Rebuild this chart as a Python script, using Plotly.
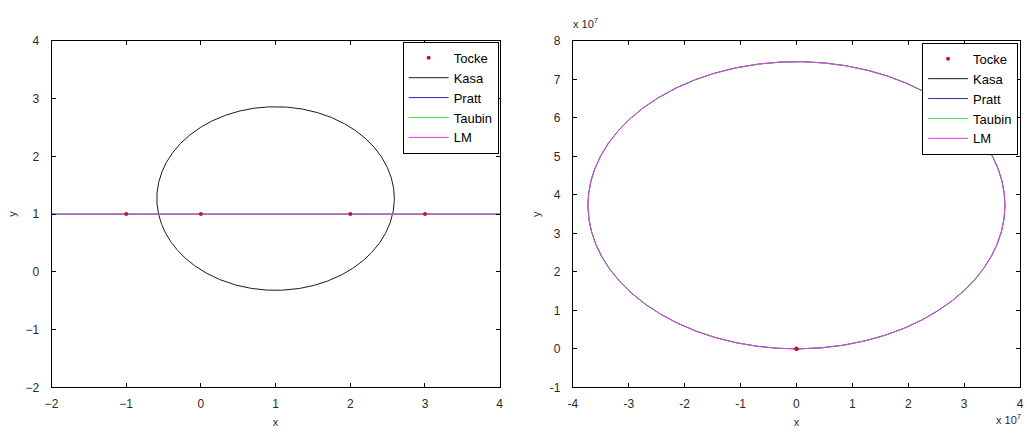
import numpy as np
import plotly.graph_objects as go

# Measured points
tocke_x = [-1, 0, 2, 3]
tocke_y = [1, 1, 1, 1]

# Fitted circles: centre x, centre y, radius
fit_names = ["Kasa", "Pratt", "Taubin", "LM"]
fit_cx = [1.0, 1.0, 1.0, 1.0]
fit_cy = [1.27, 3.73e7 + 1, 3.73e7 + 1, 3.73e7 + 1]
fit_r = [1.59, 3.73e7, 3.73e7, 3.73e7]
fit_colors = ["#1a1a1a", "#2b2bb0", "#44dd44", "#e03ce0"]

# Axis ticks
left_ticks = [-2, -1, 0, 1, 2, 3, 4]
right_xticks = [-4, -3, -2, -1, 0, 1, 2, 3, 4]
right_yticks = [-1, 0, 1, 2, 3, 4, 5, 6, 7, 8]
scale = 1e7

FONT = "Liberation Sans, Arial, sans-serif"
TXT = "#2a2a2a"


def full_circle(cx, cy, r, n=1441):
    t = np.linspace(0, 2 * np.pi, n)
    return cx + r * np.cos(t), cy + r * np.sin(t)


def lower_arc(cx, cy, r, xs):
    xs = np.asarray(xs, dtype=float)
    return xs, cy - np.sqrt(r * r - (xs - cx) ** 2)


fig = go.Figure()

# Left panel
for name, cx, cy, r, col in zip(fit_names, fit_cx, fit_cy, fit_r, fit_colors):
    if r < 100:
        xs, ys = full_circle(cx, cy, r)
    else:
        xs, ys = lower_arc(cx, cy, r, np.linspace(left_ticks[0], left_ticks[-1], 121))
    fig.add_trace(go.Scatter(x=xs, y=ys, mode="lines", name=name,
                             line=dict(color=col, width=1),
                             xaxis="x", yaxis="y", legend="legend",
                             legendrank=2 + fit_names.index(name)))
fig.add_trace(go.Scatter(x=tocke_x, y=tocke_y, mode="markers", name="Tocke",
                         marker=dict(color="#c8103a", size=4, symbol="circle"),
                         xaxis="x", yaxis="y", legend="legend", legendrank=1))

# Right panel
for name, cx, cy, r, col in zip(fit_names, fit_cx, fit_cy, fit_r, fit_colors):
    xs, ys = full_circle(cx, cy, r)
    fig.add_trace(go.Scatter(x=xs, y=ys, mode="lines", name=name,
                             line=dict(color=col, width=1),
                             xaxis="x2", yaxis="y2", legend="legend2",
                             legendrank=2 + fit_names.index(name)))
fig.add_trace(go.Scatter(x=tocke_x, y=tocke_y, mode="markers", name="Tocke",
                         marker=dict(color="#c8103a", size=4, symbol="circle"),
                         xaxis="x2", yaxis="y2", legend="legend2", legendrank=1))

W, H = 1027, 435
ydom = [42 / H, 400 / H]

axis_common = dict(showline=True, linecolor="black", linewidth=1, mirror="ticks",
                   ticks="inside", ticklen=4, tickcolor="black", showgrid=False,
                   zeroline=False, tickfont=dict(family=FONT, size=12, color=TXT),
                   title_font=dict(family=FONT, size=11, color=TXT))
xaxis_common = dict(axis_common, ticklabelstandoff=5)
yaxis_common = dict(axis_common, ticklabelstandoff=9)

legend_common = dict(bgcolor="white", bordercolor="black", borderwidth=1,
                     font=dict(family=FONT, size=13, color="black"),
                     xanchor="right", yanchor="top", tracegroupgap=0,
                     itemwidth=40)

fig.update_layout(
    width=W, height=H,
    margin=dict(l=0, r=0, t=0, b=0),
    paper_bgcolor="white", plot_bgcolor="white",
    showlegend=True,
    xaxis=dict(xaxis_common, domain=[45 / W, 498 / W], range=[-2, 4],
               tickvals=left_ticks, anchor="y", title=dict(text="x", standoff=8)),
    yaxis=dict(yaxis_common, domain=ydom, range=[-2, 4], tickvals=left_ticks,
               anchor="x", title=dict(text="y", standoff=6)),
    xaxis2=dict(xaxis_common, domain=[572 / W, 1024 / W], range=[-4 * scale, 4 * scale],
                tickvals=[v * scale for v in right_xticks],
                ticktext=[str(v) for v in right_xticks],
                anchor="y2", title=dict(text="x", standoff=8)),
    yaxis2=dict(yaxis_common, domain=ydom, range=[-1 * scale, 8 * scale],
                tickvals=[v * scale for v in right_yticks],
                ticktext=[str(v) for v in right_yticks],
                anchor="x2", title=dict(text="y", standoff=6)),
    legend=dict(legend_common, x=497 / W, y=(H - 36) / H),
    legend2=dict(legend_common, x=1022 / W, y=(H - 37) / H),
    annotations=[
        dict(text="x 10<sup>7</sup>", xref="paper", yref="paper",
             x=570 / W, y=(H - 26) / H, xanchor="left", yanchor="bottom",
             showarrow=False, font=dict(family=FONT, size=11, color=TXT)),
        dict(text="x 10<sup>7</sup>", xref="paper", yref="paper",
             x=1027 / W, y=0, xanchor="right", yanchor="bottom",
             showarrow=False, font=dict(family=FONT, size=11, color=TXT)),
    ],
)

fig.write_html("out.html")
